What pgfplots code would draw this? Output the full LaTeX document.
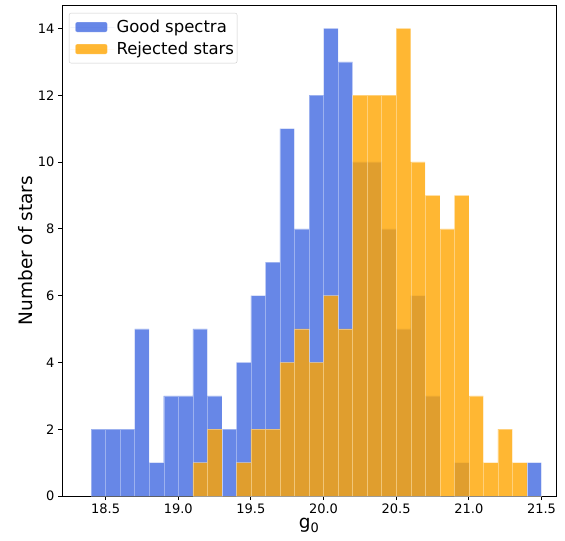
\documentclass[border=0pt]{standalone}
\usepackage{fontspec}
\setmainfont{DejaVu Sans}
\usepackage{pgfplots}
\pgfplotsset{compat=1.18}

\definecolor{goodblue}{RGB}{65,105,225}
\definecolor{rejorange}{RGB}{255,165,0}

\begin{document}
\begin{tikzpicture}
  \begin{axis}[
    scale only axis,
    width=494pt,
    height=491pt,
    xmin=18.2, xmax=21.6,
    ymin=0, ymax=14.7,
    xtick={18.5,19.0,...,21.5},
    ytick={0,2,...,14},
    xticklabel={\pgfmathprintnumber[fixed,fixed zerofill,precision=1]{\tick}},
    /pgf/number format/assume math mode=true,
    tick pos=left,
    tick align=outside,
    major tick length=4pt,
    tick style={black, line width=0.8pt},
    axis line style={line width=0.8pt},
    ticklabel style={font=\fontsize{13}{15}\selectfont},
    xlabel={g\textsubscript{0}},
    ylabel={Number of stars},
    xlabel style={font=\fontsize{18.5}{20}\selectfont, yshift=2pt},
    ylabel style={font=\fontsize{18.5}{20}\selectfont, yshift=-2pt},
    legend style={
      at={(0.014,0.984)}, anchor=north west,
      font=\fontsize{16.5}{19}\selectfont,
      fill=white, draw=black!20, rounded corners=2pt,
      inner xsep=1pt, inner ysep=5pt,
      row sep=4pt,
      cells={anchor=west},
    },
    legend image code/.code={
      \path (0pt,0pt) -- (44pt,0pt);
      \fill[#1] (5pt,-5pt) rectangle (37pt,5pt);
    },
  ]

  % Good spectra
  \addplot[ybar interval, fill=goodblue, fill opacity=0.8,
           draw=white, draw opacity=0.35, line width=0.4pt] coordinates {
    (18.4,2) (18.5,2) (18.6,2) (18.7,5) (18.8,1) (18.9,3) (19.0,3)
    (19.1,5) (19.2,3) (19.3,2) (19.4,4) (19.5,6) (19.6,7) (19.7,11)
    (19.8,8) (19.9,12) (20.0,14) (20.1,13) (20.2,10) (20.3,10) (20.4,8)
    (20.5,5) (20.6,6) (20.7,3) (20.8,0) (20.9,1) (21.0,0) (21.1,0)
    (21.2,0) (21.3,0) (21.4,1) (21.5,1)
  };
  \addlegendentry{Good spectra}

  % Rejected stars
  \addplot[ybar interval, fill=rejorange, fill opacity=0.8,
           draw=white, draw opacity=0.35, line width=0.4pt] coordinates {
    (19.1,1) (19.2,2) (19.3,0) (19.4,1) (19.5,2) (19.6,2) (19.7,4)
    (19.8,5) (19.9,4) (20.0,6) (20.1,5) (20.2,12) (20.3,12) (20.4,12)
    (20.5,14) (20.6,10) (20.7,9) (20.8,8) (20.9,9) (21.0,3) (21.1,1)
    (21.2,2) (21.3,1) (21.4,0) (21.5,0)
  };
  \addlegendentry{Rejected stars}

  \end{axis}
  \path ([shift={(-62pt,-44pt)}]current axis.south west)
        ([shift={(9pt,5pt)}]current axis.north east);
\end{tikzpicture}
\end{document}
